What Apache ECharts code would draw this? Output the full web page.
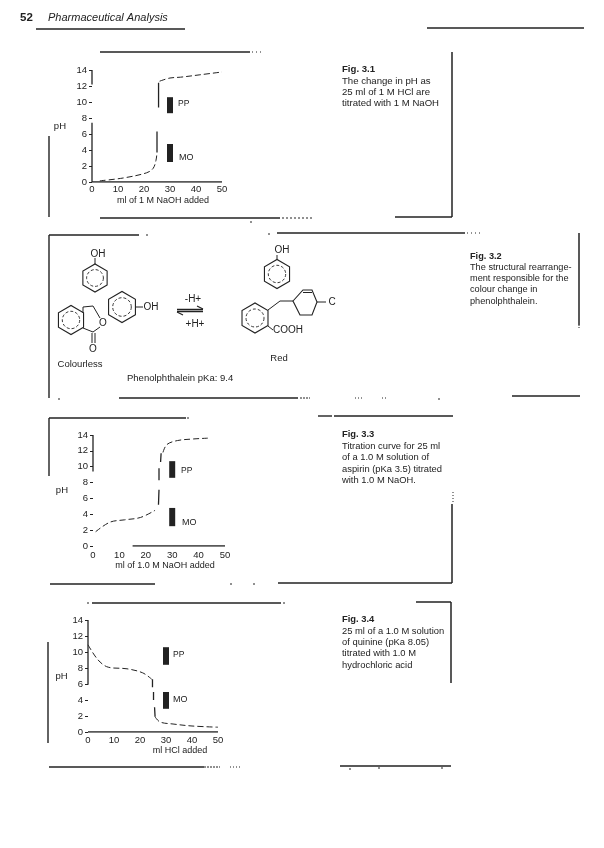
<!DOCTYPE html>
<html>
<head>
<meta charset="utf-8">
<style>
    html, body { margin: 0; padding: 0; background: #fff; }
    #page { width: 604px; height: 848px; filter: blur(0.35px); }
</style>
</head>
<body>
<div id="page"></div>
<script src="https://cdn.jsdelivr.net/npm/echarts@6/dist/echarts.min.js"></script>
<script>
    // values: [ml added, pH]
    var phMax = 14

    var hclCurve = [[3, 0.15], [12, 0.5], [21, 1.15], [23.5, 1.7], [24.6, 2.7], [25, 3.7], null,
        [26, 12.6], [30, 13], [34, 13.1], [41.5, 13.4], [50, 13.75]]
    var hclSteep = [[25, 3.7], [25, 6.3], null, [25.6, 9.3], [25.6, 12.4]]
    var hclAxisY = [[0, 14], [0, 12.2], null, [0, 7.4], [0, 0]]
    var hclAxisX = [[0, 0], [50, 0]]

    var aspirinCurve = [[1, 1.8], [6.4, 3], [12, 3.3], [18, 3.6], [23.5, 4.5], null,
        [26.5, 11.8], [28, 12.8], [32, 13.3], [38, 13.5], [43.5, 13.6]]
    var aspirinSteep = [[24.8, 5.2], [25, 7.1], null, [25, 8.3], [25, 9.8], null, [25.6, 10.6], [25.8, 11.7]]
    var aspirinAxisY = [[0, 14], [0, 9.4]]
    var aspirinAxisX = [[15, 0], [50, 0]]

    var quinineCurve = [[0, 10.9], [3.9, 9], [7.8, 8.1], [15, 7.9], [21, 7.4], [24.5, 6.6], null,
        [25.8, 1.9], [27.7, 1.25], [32.7, 1], [40, 0.75], [50, 0.6]]
    var quinineSteep = [[24.8, 6.6], [24.8, 5.6], null, [25.2, 5], [25.2, 4], null, [25.6, 3.1], [25.8, 1.9]]
    var quinineAxisY = [[0, 14], [0, 5.9]]
    var quinineAxisX = [[0, 0], [50, 0]]

    var indicatorVolume = 30
    var hclPP = [8.6, 10.6]
    var hclMO = [2.5, 4.75]
    var aspirinPP = [8.6, 10.7]
    var aspirinMO = [2.5, 4.8]
    var quininePP = [8.4, 10.6]
    var quinineMO = [2.9, 5]

    var ink = '#222'
    var sans = 'Liberation Sans, Arial, sans-serif'

    var myChart = echarts.init(document.getElementById('page'))

    function makeGrid(left, top, width, height) {
        return { left: left, top: top, width: width, height: height }
    }

    function makeX(i, labelMargin) {
        return {
            gridIndex: i, type: 'value', min: 0, max: 50, interval: 10,
            axisLine: { show: false }, splitLine: { show: false },
            axisTick: { show: false },
            axisLabel: { color: ink, fontSize: 9.5, margin: labelMargin, fontFamily: sans }
        }
    }

    function makeY(i, nameGap) {
        return {
            gridIndex: i, type: 'value', min: 0, max: phMax, interval: 2,
            axisLine: { show: false }, splitLine: { show: false },
            axisTick: { show: true, length: 3, lineStyle: { color: ink } },
            axisLabel: { color: ink, fontSize: 9.5, margin: 5, fontFamily: sans },
            name: 'pH', nameLocation: 'middle', nameRotate: 0, nameGap: nameGap,
            nameTextStyle: { color: ink, fontSize: 9.5, fontFamily: sans }
        }
    }

    function lineSeries(i, data, width, dash, smooth) {
        return {
            type: 'line', xAxisIndex: i, yAxisIndex: i, data: data, symbol: 'none', silent: true,
            smooth: smooth ? 0.35 : false, connectNulls: false, animation: false,
            lineStyle: { color: ink, width: width, type: dash || 'solid', cap: 'butt' }
        }
    }

    function indicator(i, range) {
        return lineSeries(i, [[indicatorVolume, range[0]], [indicatorVolume, range[1]]], 6)
    }

    function chartSeries(i, curve, steep, axisY, axisX, pp, mo) {
        return [
            lineSeries(i, axisY, 1.3),
            lineSeries(i, axisX, 1.3),
            lineSeries(i, curve, 1, [6, 3], true),
            lineSeries(i, steep, 1.3),
            indicator(i, pp),
            indicator(i, mo)
        ]
    }

    var shapes = []

    function rule(x1, y1, x2, y2, w, dash) {
        shapes.push({
            type: 'line', silent: true,
            shape: { x1: x1, y1: y1, x2: x2, y2: y2 },
            style: { stroke: ink, lineWidth: w || 1.4, lineDash: dash || null }
        })
    }

    function label(x, y, text, size, extra) {
        shapes.push({
            type: 'text', silent: true, x: x, y: y,
            style: Object.assign({
                text: text, fill: ink, fontSize: size || 9, fontFamily: sans,
                textAlign: 'left', textVerticalAlign: 'middle'
            }, extra || {})
        })
    }

    function caption(x, ys, lines, size) {
        lines.forEach(function (t, i) {
            label(x, ys[i], t, size, { fontWeight: i === 0 ? 'bold' : 'normal' })
        })
    }

    // pointy-top benzene ring with a broken inner ring, as printed
    function ring(cx, cy, r) {
        var pts = []
        for (var k = 0; k < 6; k++) {
            var a = Math.PI / 6 + k * Math.PI / 3
            pts.push([cx + r * Math.cos(a), cy + r * Math.sin(a)])
        }
        shapes.push({
            type: 'polygon', silent: true, shape: { points: pts },
            style: { stroke: ink, fill: 'none', lineWidth: 1.1 }
        })
        shapes.push({
            type: 'circle', silent: true, shape: { cx: cx, cy: cy, r: r * 0.6 },
            style: { stroke: ink, fill: 'none', lineWidth: 0.9, lineDash: [3, 2] }
        })
    }

    // page header
    label(20, 18, '52', 11.5, { fontWeight: 'bold' })
    label(48, 18, 'Pharmaceutical Analysis', 11, { fontStyle: 'italic' })
    rule(36, 29, 185, 29)
    rule(427, 28, 584, 28)

    // frame fig 3.1
    rule(100, 52, 250, 52, 1.5); rule(252, 52, 264, 52, 1, [1, 3])
    rule(49, 136, 49, 217)
    rule(100, 218, 280, 218, 1.5); rule(282, 218, 312, 218, 1, [2, 2])
    rule(452, 52, 452, 217, 1.5)
    rule(395, 217, 452, 217, 1.5)

    // frame fig 3.2
    rule(49, 235, 139, 235); rule(49, 235, 49, 398)
    rule(277, 233, 465, 233); rule(467, 233, 481, 233, 1, [1, 3])
    rule(579, 233, 579, 325, 1.5); rule(579, 325, 579, 329, 1, [1, 1])
    rule(119, 398, 298, 398); rule(300, 398, 310, 398, 1, [2, 1])
    rule(355, 398, 362, 398, 1, [1, 2]); rule(382, 398, 387, 398, 1, [1, 2])
    rule(512, 396, 580, 396)

    // frame fig 3.3
    rule(49, 418, 186, 418); rule(49, 418, 49, 476)
    rule(50, 584, 155, 584)
    rule(278, 583, 452, 583)
    rule(318, 416, 332, 416); rule(334, 416, 453, 416)
    rule(453, 492, 453, 504, 1, [1, 2]); rule(452, 504, 452, 583, 1.5)

    // frame fig 3.4
    rule(92, 603, 281, 603); rule(48, 642, 48, 743)
    rule(49, 767, 204, 767); rule(204, 767, 220, 767, 1, [2, 1]); rule(230, 767, 240, 767, 1, [1, 2])
    rule(340, 766, 451, 766, 1.5); rule(416, 602, 451, 602)
    rule(451, 602, 451, 683, 1.5)

    // specks left by the scan
    ;[[146, 235], [268, 234], [58, 399], [438, 399], [187, 418], [230, 584], [253, 584], [87, 603], [283, 603],
        [349, 769], [378, 768], [441, 768], [250, 222]].forEach(function (p) {
        rule(p[0], p[1], p[0] + 2, p[1], 1)
    })

    // captions
    caption(342, [69, 81, 92, 103], ['Fig. 3.1', 'The change in pH as', '25 ml of 1 M HCl are', 'titrated with 1 M NaOH'], 9.6)
    caption(470, [256, 267, 278, 289, 301], ['Fig. 3.2', 'The structural rearrange-', 'ment responsible for the', 'colour change in', 'phenolphthalein.'], 9.2)
    caption(342, [434, 446, 457, 469, 480], ['Fig. 3.3', 'Titration curve for 25 ml', 'of a 1.0 M solution of', 'aspirin (pKa 3.5) titrated', 'with 1.0 M NaOH.'], 9.4)
    caption(342, [619, 631, 642, 653, 665], ['Fig. 3.4', '25 ml of a 1.0 M solution', 'of quinine (pKa 8.05)', 'titrated with 1.0 M', 'hydrochloric acid'], 9.4)

    // chart annotations
    label(163, 201, 'ml of 1 M NaOH added', 9, { textAlign: 'center' })
    label(178, 104, 'PP', 8.5); label(179, 158, 'MO', 9)
    label(165, 566, 'ml of 1.0 M NaOH added', 9, { textAlign: 'center' })
    label(181, 471, 'PP', 8.5); label(182, 523, 'MO', 9)
    label(180, 751, 'ml HCl added', 9, { textAlign: 'center' })
    label(173, 655, 'PP', 8.5); label(173, 700, 'MO', 9)

    // phenolphthalein, colourless form
    ring(95, 278, 14)
    rule(95, 264, 95, 258, 1); label(98, 254, 'OH', 10, { textAlign: 'center' })
    ring(122, 307, 15.5)
    rule(136, 307, 143, 307, 1); label(151, 307, 'OH', 10, { textAlign: 'center' })
    ring(71, 320, 14.5)
    rule(83, 313, 83, 307, 1); rule(83, 307, 93, 306, 1); rule(93, 306, 100, 318, 1)
    label(103, 323, 'O', 10, { textAlign: 'center' })
    rule(100, 327, 93, 332, 1); rule(93, 332, 83, 328, 1)
    rule(92, 333, 92, 343, 1); rule(95, 333, 95, 343, 1)
    label(93, 349, 'O', 10, { textAlign: 'center' })
    label(80, 364, 'Colourless', 9.5, { textAlign: 'center' })

    // equilibrium arrows
    label(193, 299, '-H+', 10, { textAlign: 'center' })
    rule(177, 309.5, 203, 309.5, 1.5); rule(177, 311.5, 203, 311.5, 1.5)
    rule(197, 306, 203, 309, 1.2); rule(177, 312, 183, 315, 1.2)
    label(195, 324, '+H+', 10, { textAlign: 'center' })

    // phenolphthalein, red form
    ring(277, 274, 14.5)
    rule(277, 259.5, 277, 255, 1); label(282, 250, 'OH', 10, { textAlign: 'center' })
    ring(255, 318, 15)
    rule(268, 310, 280, 301, 1); rule(280, 301, 293, 301, 1)
    shapes.push({
        type: 'polygon', silent: true,
        shape: { points: [[293, 301], [303, 290], [312, 290], [317, 302], [312, 315], [300, 315]] },
        style: { stroke: ink, fill: 'none', lineWidth: 1.1 }
    })
    rule(303, 292.5, 312, 292.5, 1)
    rule(317, 302, 326, 302, 1); label(332, 302, 'C', 10, { textAlign: 'center' })
    rule(268, 326, 273, 330, 1); label(288, 330, 'COOH', 10, { textAlign: 'center' })
    label(279, 358, 'Red', 9.5, { textAlign: 'center' })
    label(127, 378, 'Phenolphthalein pKa: 9.4', 9.5)

    myChart.setOption({
        animation: false,
        grid: [
            makeGrid(92, 70, 130, 112),
            makeGrid(93, 435, 132, 111),
            makeGrid(88, 620, 130, 112)
        ],
        xAxis: [makeX(0, 2), makeX(1, 4), makeX(2, 3)],
        yAxis: [makeY(0, 26), makeY(1, 25), makeY(2, 20)],
        series: [].concat(
            chartSeries(0, hclCurve, hclSteep, hclAxisY, hclAxisX, hclPP, hclMO),
            chartSeries(1, aspirinCurve, aspirinSteep, aspirinAxisY, aspirinAxisX, aspirinPP, aspirinMO),
            chartSeries(2, quinineCurve, quinineSteep, quinineAxisY, quinineAxisX, quininePP, quinineMO)
        ),
        graphic: shapes
    })

    window.addEventListener('resize', function () {
        myChart.resize()
    })
</script>
</body>
</html>
